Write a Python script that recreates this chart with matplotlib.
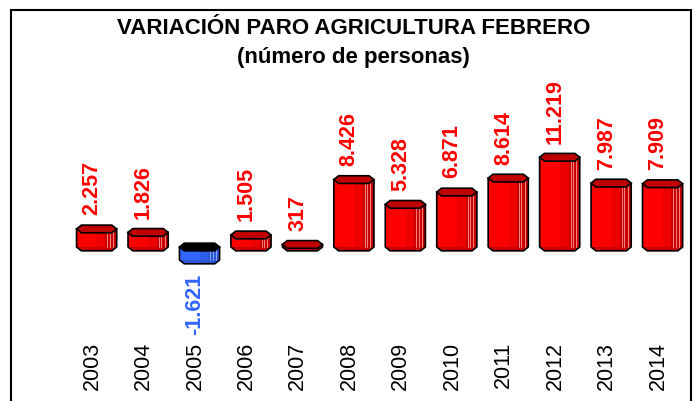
import numpy as np
import matplotlib.pyplot as plt
from matplotlib.patches import Polygon, Rectangle

plt.rcParams['font.family'] = ['Liberation Sans', 'DejaVu Sans']

years = ['2003', '2004', '2005', '2006', '2007', '2008',
         '2009', '2010', '2011', '2012', '2013', '2014']
values = [2257, 1826, -1621, 1505, 317, 8426,
          5328, 6871, 8614, 11219, 7987, 7909]
labels = ['2.257', '1.826', '-1.621', '1.505', '317', '8.426',
          '5.328', '6.871', '8.614', '11.219', '7.987', '7.909']

RED = '#ff0000'
RED_DARK = '#c80000'
BLUE = '#3366ff'
BLUE_DARK = '#2a55d8'

W, H = 697, 401
fig = plt.figure(figsize=(W / 100, H / 100), dpi=100)

# outer border (bottom runs off the picture)
fig.add_artist(Rectangle((11 / W, -0.05), 680 / W, 1.05 - 10 / H,
                         transform=fig.transFigure, fill=False,
                         edgecolor='black', linewidth=1.5))

fig.text(354 / W, 1 - 28 / H, 'VARIACIÓN PARO AGRICULTURA FEBRERO',
         ha='center', va='center', fontsize=16, fontweight='bold')
fig.text(353 / W, 1 - 57 / H, '(número de personas)',
         ha='center', va='center', fontsize=16, fontweight='bold')

# axes placed in pixel terms
ax_l, ax_r, ax_t, ax_b = 12, 690, 75, 335
ax = fig.add_axes([ax_l / W, 1 - ax_b / H, (ax_r - ax_l) / W, (ax_b - ax_t) / H])
px_per_unit = 51.45
x0_px = 92
ax.set_xlim(-(x0_px - ax_l) / px_per_unit, 11 + (ax_r - (x0_px + 11 * px_per_unit)) / px_per_unit)
px_per_k = 8.0
base_px = 247
ax.set_ylim(-(ax_b - base_px) / px_per_k * 1000, (base_px - ax_t) / px_per_k * 1000)

x = np.arange(len(years))
depth = 0.09   # 3d shift of the bars to the right of their labels
width = 0.78
dh = 480  # half height of the cap in data units
cut = 0.12 * width

for xi, v, lab in zip(x, values, labels):
    neg = v < 0
    top = 0 if neg else v
    bot = v if neg else 0
    front = BLUE if neg else RED
    side = BLUE_DARK if neg else RED_DARK
    capc = 'black' if neg else '#c00000'
    xc = xi + depth
    xl, xr = xc - width / 2, xc + width / 2
    # body, with a soft shade towards the right
    ax.bar(xc, top - bot, width=width, bottom=bot, color=front,
           edgecolor='none', zorder=2)
    ax.bar(xc + width * 0.12, top - bot, width=width * 0.22, bottom=bot,
           color='black', alpha=0.07, edgecolor='none', zorder=2)
    ax.bar(xc + width * 0.36, top - bot, width=width * 0.28, bottom=bot,
           color=side, edgecolor='none', zorder=2)
    for f in (0.27, 0.33, 0.41):
        ax.plot([xc + width * f] * 2, [bot, top], color='#ff9a9a' if not neg else '#9ab0ff',
                lw=0.6, zorder=3)
    # curved bottom
    bottom_pts = [(xl, bot), (xl + cut, bot - dh), (xr - cut, bot - dh), (xr, bot)]
    ax.add_patch(Polygon(bottom_pts, closed=True, facecolor=side, edgecolor='none', zorder=2))
    ax.plot([xl, xl, xl + cut, xr - cut, xr, xr],
            [top, bot, bot - dh, bot - dh, bot, top], color='black', lw=1.2, zorder=4)
    # cap
    cap = [(xl, top), (xl + cut, top + dh), (xr - cut, top + dh), (xr, top),
           (xr - cut, top - dh), (xl + cut, top - dh)]
    ax.add_patch(Polygon(cap, closed=True, facecolor=capc, edgecolor='black',
                         lw=1.2, zorder=5))
    # value label
    if neg:
        ax.annotate(lab, (xi, bot - dh), xytext=(0, -7),
                    textcoords='offset points', rotation=90, ha='center', va='top',
                    color=BLUE, fontsize=15.5, fontweight='bold')
    else:
        ax.annotate(lab, (xi, top + dh), xytext=(0, 7),
                    textcoords='offset points', rotation=90, ha='center', va='bottom',
                    color=RED, fontsize=15.5, fontweight='bold')

ax.set_xticks(x)
ax.set_xticklabels(years, rotation=90, fontsize=15.5)
ax.tick_params(axis='x', length=0, pad=5)
ax.set_yticks([])
for s in ax.spines.values():
    s.set_visible(False)
ax.patch.set_alpha(0)

fig.savefig('out.png', dpi=100)
